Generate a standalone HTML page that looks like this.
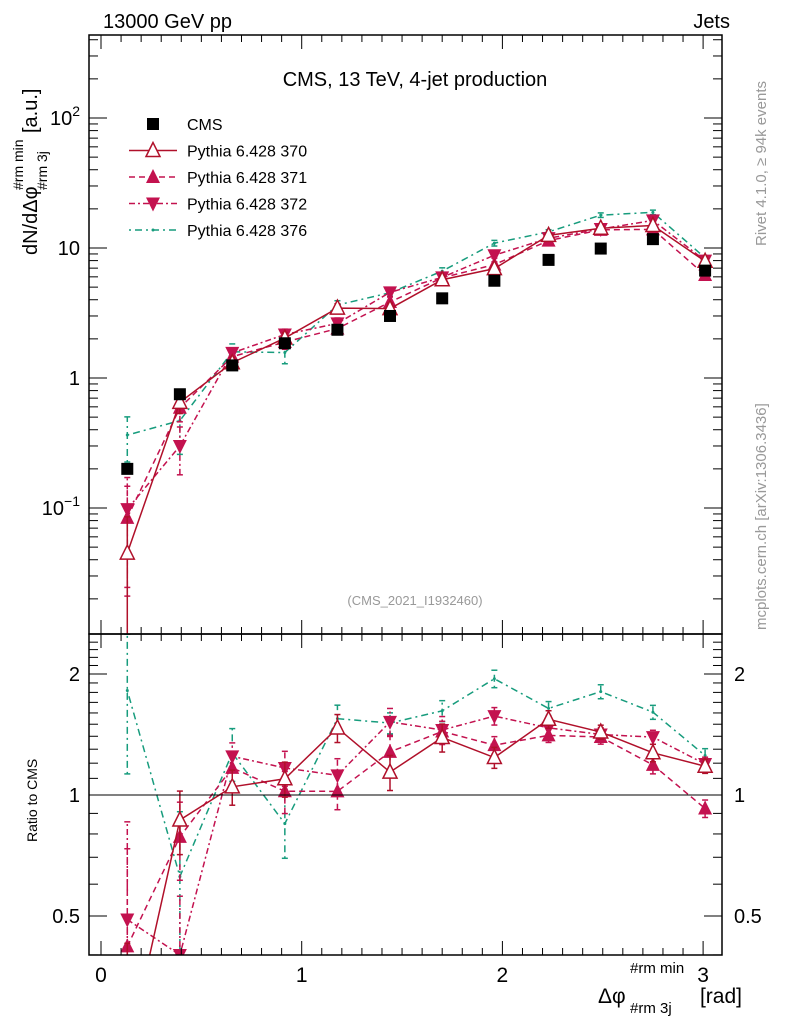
<!DOCTYPE html>
<html><head><meta charset="utf-8"><style>
html,body{margin:0;background:#fff;overflow:hidden;width:786px;height:1024px;}
svg{display:block;font-family:"Liberation Sans",sans-serif;}
</style></head><body>
<svg id="c" width="786" height="1024" viewBox="0 0 786 1024">
<svg id="pm" x="89" y="35" width="633" height="599" viewBox="89 35 633 599" overflow="hidden"></svg>
<svg id="pr" x="89" y="634" width="633" height="321" viewBox="89 634 633 321" overflow="hidden"></svg>
<text x="103" y="28" font-size="20">13000 GeV pp</text>
<text x="730" y="28" font-size="20" text-anchor="end">Jets</text>
<text x="415" y="86" font-size="20" text-anchor="middle">CMS, 13 TeV, 4-jet production</text>
<text x="415" y="605" font-size="13" fill="#999" text-anchor="middle">(CMS_2021_I1932460)</text>
<text transform="translate(766,246) rotate(-90)" font-size="15" fill="#999">Rivet 4.1.0, ≥ 94k events</text>
<text transform="translate(766,630) rotate(-90)" font-size="15" fill="#999">mcplots.cern.ch [arXiv:1306.3436]</text>
<g>
<text transform="translate(37,255) rotate(-90)" font-size="20">dN/dΔφ</text>
<text transform="translate(23,190) rotate(-90)" font-size="14">#rm min</text>
<text transform="translate(47,190) rotate(-90)" font-size="14">#rm 3j</text>
<text transform="translate(37,133) rotate(-90)" font-size="20">[a.u.]</text>
</g>
<text transform="translate(37,842) rotate(-90)" font-size="14">Ratio to CMS</text>
<g>
<text x="598" y="1003" font-size="21">Δφ</text>
<text x="630" y="973" font-size="15">#rm min</text>
<text x="630" y="1013" font-size="15">#rm 3j</text>
<text x="742" y="1003" font-size="21" text-anchor="end">[rad]</text>
</g>
</svg>
<script>
const xCenters=[0.131,0.393,0.654,0.916,1.178,1.44,1.70,1.96,2.23,2.49,2.75,3.01];
const cmsVals=[0.2,0.75,1.25,1.85,2.35,3.0,4.1,5.6,8.1,9.9,11.7,6.7];
const p370=[0.045,0.65,1.31,2.03,3.45,3.42,5.7,6.94,12.5,14.2,14.9,7.9];
const p371=[0.084,0.59,1.46,1.89,2.4,3.84,5.9,7.45,11.4,13.8,13.9,6.2];
const p372=[0.098,0.3,1.56,2.16,2.63,4.56,5.95,8.8,11.9,14.0,16.3,8.0];
const p376=[0.364,0.47,1.59,1.57,3.64,4.53,6.64,10.9,13.3,17.9,18.8,8.4];
const e370=[0.9,0.18,0.1,0.1,0.08,0.1,0.08,0.06,0.05,0.04,0.05,0.04];
const e371=[0.75,0.22,0.1,0.12,0.1,0.1,0.06,0.05,0.04,0.04,0.05,0.05];
const e372=[0.75,0.4,0.08,0.1,0.1,0.08,0.08,0.05,0.04,0.04,0.04,0.04];
const e376=[0.38,0.45,0.15,0.18,0.08,0.06,0.06,0.05,0.04,0.04,0.04,0.04];
const xTicks=[0,1,2,3];
const mainTickBase=["10","1","10","10"];
const mainTickExp=["\u22121","","","2"];
const mainTickVals=[0.1,1,10,100];
const ratioTickVals=[0.5,1,2];
const ratioTickLabels=["0.5","1","2"];

const NS="http://www.w3.org/2000/svg";
const svg=document.getElementById('c');
const pm=document.getElementById('pm'),pr=document.getElementById('pr');
const X0=101,XS=200.7,L=89,R=722,T=35,MB=634,RB=955;
const xs=v=>X0+v*XS;
const ym=v=>378-130*Math.log10(v);
const yr=v=>795-121*Math.log2(v);
function el(t,a,p){const e=document.createElementNS(NS,t);for(const k in a)e.setAttribute(k,a[k]);(p||svg).appendChild(e);return e;}
function tx(s,a,p){const e=el('text',a,p);e.textContent=s;return e;}

const fm=el('rect',{x:L,y:T,width:R-L,height:MB-T,fill:'none',stroke:'#000','stroke-width':1.5});

const fr=el('rect',{x:L,y:MB,width:R-L,height:RB-MB,fill:'none',stroke:'#000','stroke-width':1.5});


const xt=el('g',{stroke:'#000','stroke-width':1});

for(let i=0;i<=31;i++){const v=i/10,x=xs(v);if(x>R)break;const len=(i%10==0)?14:7;
 for(const [y0,d] of [[T,1],[MB,-1],[MB,1],[RB,-1]]) el('line',{x1:x,x2:x,y1:y0,y2:y0+d*len},xt);}
xTicks.forEach(v=>{const t=tx(String(v),{x:xs(v),y:982,'font-size':21,'text-anchor':'middle'});
 });

const yt=el('g',{stroke:'#000','stroke-width':1});

for(let d=-2;d<=2;d++)for(let m=1;m<=9;m++){const v=m*Math.pow(10,d),y=ym(v);if(y<T||y>MB)continue;const len=m==1?18:9;
 el('line',{x1:L,x2:L+len,y1:y,y2:y},yt);el('line',{x1:R,x2:R-len,y1:y,y2:y},yt);}
mainTickVals.forEach((v,i)=>{
 const t=el('text',{x:80,y:ym(v)+7,'font-size':20,'text-anchor':'end'});
 
 const b=document.createElementNS(NS,'tspan');b.textContent=mainTickBase[i];t.appendChild(b);
 if(mainTickExp[i]){const e=document.createElementNS(NS,'tspan');e.setAttribute('font-size','14');e.setAttribute('dy','-9');e.textContent=mainTickExp[i];t.appendChild(e);}
});
for(let v=0.4;v<=2.5;v+=0.1){const y=yr(v);if(y<MB||y>RB)continue;const major=Math.abs(v-0.5)<1e-6||Math.abs(v-1)<1e-6||Math.abs(v-2)<1e-6;const len=major?18:9;
 el('line',{x1:L,x2:L+len,y1:y,y2:y},yt);el('line',{x1:R,x2:R-len,y1:y,y2:y},yt);}
ratioTickVals.forEach((v,i)=>{const a=tx(ratioTickLabels[i],{x:80,y:yr(v)+7,'font-size':20,'text-anchor':'end'});
 
 const b=tx(ratioTickLabels[i],{x:734,y:yr(v)+7,'font-size':20,'text-anchor':'start'});
 });
const one=el('line',{x1:L,x2:R,y1:yr(1),y2:yr(1),stroke:'#000','stroke-width':1});


function marker(g,kind,x,y,col){
 if(kind=='sq')return el('rect',{x:x-6,y:y-6,width:12,height:12,fill:'#000'},g);
 if(kind=='up')return el('polygon',{points:`${x},${y-8} ${x-7},${y+6} ${x+7},${y+6}`,fill:col},g);
 if(kind=='upo')return el('polygon',{points:`${x},${y-8} ${x-7},${y+6} ${x+7},${y+6}`,fill:'#fff',stroke:col,'stroke-width':1.5},g);
 if(kind=='dn')return el('polygon',{points:`${x},${y+8} ${x-7},${y-6} ${x+7},${y-6}`,fill:col},g);
 if(kind=='dot')return el('circle',{cx:x,cy:y,r:1.5,fill:col},g);
}
const series=[
 {name:'p370',vals:p370,err:e370,col:'#b0102a',dash:'',mk:'upo'},
 {name:'p371',vals:p371,err:e371,col:'#c3124f',dash:'6,4',mk:'up'},
 {name:'p372',vals:p372,err:e372,col:'#c3124f',dash:'6,3,2,3',mk:'dn'},
 {name:'p376',vals:p376,err:e376,col:'#179c7d',dash:'2,4,7,4',mk:'dot'}];
series.slice().reverse().forEach(s=>{
 for(const panel of ['main','ratio']){
  const yf=panel=='main'?ym:yr;
  const bottom=panel=='main'?MB+20:RB+20;
  const g=el('g',{},panel=='main'?pm:pr);
  
  const vals=s.vals.map((v,i)=>panel=='main'?v:v/cmsVals[i]);
  const pts=vals.map((v,i)=>xs(xCenters[i])+','+yf(v)).join(' ');
  el('polyline',{points:pts,fill:'none',stroke:s.col,'stroke-width':1.5,'stroke-dasharray':s.dash},g);
  vals.forEach((v,i)=>{const x=xs(xCenters[i]);const lo=Math.max(v*(1-s.err[i]),1e-4),hi=v*(1+s.err[i]);
   const ylo=Math.min(yf(lo),bottom);
   el('line',{x1:x,x2:x,y1:ylo,y2:yf(hi),stroke:s.col,'stroke-width':1.5,'stroke-dasharray':s.dash},g);
   el('line',{x1:x-3,x2:x+3,y1:ylo,y2:ylo,stroke:s.col,'stroke-width':1.5},g);
   el('line',{x1:x-3,x2:x+3,y1:yf(hi),y2:yf(hi),stroke:s.col,'stroke-width':1.5},g);
   const m=marker(g,s.mk,x,yf(v),s.col);
   });
 }});
const cg=el('g',{},pm);

cmsVals.forEach((v,i)=>{const m=marker(cg,'sq',xs(xCenters[i]),ym(v));
 });

const lg=el('g',{});

const legNames=['CMS','Pythia 6.428 370','Pythia 6.428 371','Pythia 6.428 372','Pythia 6.428 376'];
legNames.forEach((n,i)=>{const y=124+i*26.5;const row=el('g',{},lg);
 
 if(i==0)marker(row,'sq',153,y);else{const s=series[i-1];
  el('line',{x1:129,x2:177,y1:y,y2:y,stroke:s.col,'stroke-width':1.5,'stroke-dasharray':s.dash},row);
  marker(row,s.mk,153,y,s.col);}
 tx(n,{x:187,y:y+6,'font-size':16},row);});
</script>
</body></html>
